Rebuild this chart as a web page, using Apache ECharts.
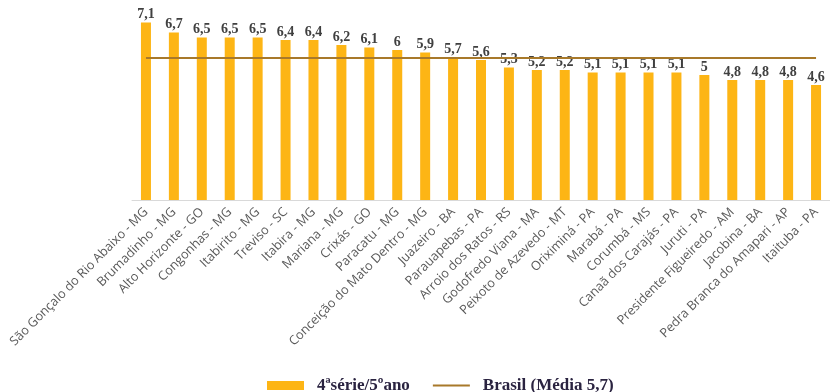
<!DOCTYPE html>
<html>
<head>
<meta charset="utf-8">
<script src="https://cdn.jsdelivr.net/npm/echarts@6/dist/echarts.min.js"></script>
<style>html,body{margin:0;padding:0;background:#fff}#c{width:830px;height:392px}</style>
</head>
<body>
<div id="c"></div>
<script>
const categories = ["São Gonçalo do Rio Abaixo - MG","Brumadinho - MG","Alto Horizonte - GO","Congonhas - MG","Itabirito - MG","Treviso - SC","Itabira - MG","Mariana - MG","Crixás - GO","Paracatu - MG","Conceição do Mato Dentro - MG","Juazeiro - BA","Parauapebas - PA","Arroio dos Ratos - RS","Godofredo Viana - MA","Peixoto de Azevedo - MT","Oriximiná - PA","Marabá - PA","Corumbá - MS","Canaã dos Carajás - PA","Juruti - PA","Presidente Figueiredo - AM","Jacobina - BA","Pedra Branca do Amapari - AP","Itaituba - PA"];
const values = [7.1,6.7,6.5,6.5,6.5,6.4,6.4,6.2,6.1,6,5.9,5.7,5.6,5.3,5.2,5.2,5.1,5.1,5.1,5.1,5,4.8,4.8,4.8,4.6];
const brasilAvg = 5.7;
const seriesBarName = "4ªsérie/5ºano";
const seriesLineName = "Brasil (Média 5,7)";

const chart = echarts.init(document.getElementById('c'));
chart.setOption({
  animation: false,
  grid: {left: 132, right: -7, top: 0, bottom: 192},
  legend: {
    top: 372, left: 262, itemGap: 22,
    textStyle: {fontFamily: 'Liberation Serif', fontWeight: 'bold', fontSize: 17, color: '#2a2340', padding: [0, 0, 0, 8]},
    data: [
      {name: seriesBarName, icon: 'rect', itemStyle: {color: '#FDB515'}},
      {name: seriesLineName, itemStyle: {opacity: 0}}
    ],
    itemWidth: 37, itemHeight: 9
  },
  xAxis: {
    type: 'category', data: categories,
    axisLine: {lineStyle: {color: '#d9d9d9', width: 1}},
    axisTick: {show: false},
    axisLabel: {interval: 0, rotate: 45, fontFamily: 'Open Sans', fontSize: 12.7, color: '#595959', margin: 10}
  },
  yAxis: {type: 'value', min: 0, max: 8, show: false, splitLine: {show: false}},
  series: [
    {
      name: seriesBarName, type: 'bar', data: values, barWidth: 10,
      itemStyle: {color: '#FDB515'},
      label: {show: true, position: 'top', distance: 1,
        formatter: p => String(p.value).replace('.', ','),
        fontFamily: 'Liberation Serif', fontWeight: 'bold', fontSize: 14, color: '#404040'}
    },
    {
      name: seriesLineName, type: 'line', data: [],
      lineStyle: {color: '#A8792A', width: 2}, itemStyle: {color: '#A8792A'}, symbol: 'none',
      markLine: {
        silent: true, symbol: 'none', label: {show: false},
        lineStyle: {color: '#A8792A', width: 2, type: 'solid'},
        data: [[{xAxis: categories[0], yAxis: brasilAvg}, {xAxis: categories[categories.length - 1], yAxis: brasilAvg}]]
      }
    }
  ]
});
</script>
</body>
</html>
